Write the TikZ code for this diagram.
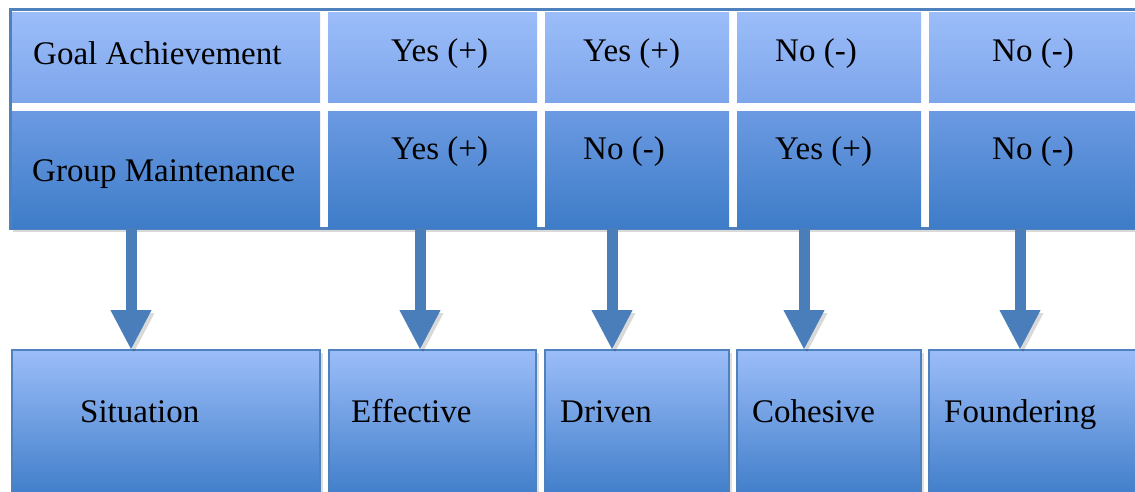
\documentclass[tikz,border=0pt]{standalone}
\usepackage{fontspec}
\setmainfont{Liberation Serif}
\usetikzlibrary{positioning, arrows.meta, shadows}

\definecolor{paleblue}{RGB}{155,189,249}
\definecolor{midblue}{RGB}{125,165,235}
\definecolor{softblue}{RGB}{107,154,226}
\definecolor{deepblue}{RGB}{62,124,200}
\definecolor{edgeblue}{RGB}{79,129,189}
\definecolor{arrowblue}{RGB}{74,126,187}

\begin{document}
\begin{tikzpicture}[
  x=1pt, y=-1pt,
  node distance=8pt,
  goalcell/.style={top color=paleblue, bottom color=midblue, minimum height=90pt, inner sep=0pt, outer sep=0pt},
  maintcell/.style={top color=softblue, bottom color=deepblue, minimum height=116pt, inner sep=0pt, outer sep=0pt},
  outbox/.style={draw=edgeblue, line width=2.5pt, top color=paleblue, middle color=midblue, bottom color=deepblue, minimum height=150pt, inner sep=0pt, outer sep=0pt, drop shadow={opacity=0.25, shadow xshift=3pt, shadow yshift=-3pt}},
  frame/.style={draw=edgeblue, line width=3pt, fill=white, inner sep=0pt, outer sep=0pt, drop shadow={opacity=0.3, shadow xshift=3pt, shadow yshift=-4pt}},
  lbl/.style={font=\fontsize{33}{40}\selectfont, inner sep=0pt},
  flow/.style={draw=arrowblue, line width=11pt, -{Triangle[width=38pt, length=40pt]}},
]
  \useasboundingbox (0,0) rectangle (1135,492);

  % Table frame
  \node (tbl) [frame, minimum width=1140pt, minimum height=218pt, anchor=north west] at (10,10) {};

  % Goal achievement row
  \node (ga1) [goalcell, minimum width=308pt, anchor=north west] at (12,13) {};
  \node (ga2) [goalcell, minimum width=209pt, right=of ga1] {};
  \node (ga3) [goalcell, minimum width=184pt, right=of ga2] {};
  \node (ga4) [goalcell, minimum width=184pt, right=of ga3] {};
  \node (ga5) [goalcell, minimum width=216pt, right=of ga4] {};

  % Group maintenance row
  \node (gm1) [maintcell, minimum width=308pt, below=9pt of ga1] {};
  \node (gm2) [maintcell, minimum width=209pt, below=9pt of ga2] {};
  \node (gm3) [maintcell, minimum width=184pt, below=9pt of ga3] {};
  \node (gm4) [maintcell, minimum width=184pt, below=9pt of ga4] {};
  \node (gm5) [maintcell, minimum width=216pt, below=9pt of ga5] {};

  % Outcome boxes
  \node (out1) [outbox, minimum width=308pt, below=122pt of gm1] {};
  \node (out2) [outbox, minimum width=207pt, below=122pt of gm2] {};
  \node (out3) [outbox, minimum width=184pt, below=122pt of gm3] {};
  \node (out4) [outbox, minimum width=184pt, below=122pt of gm4] {};
  \node (out5) [outbox, minimum width=216pt, below=122pt of gm5] {};

  % Texts
  \node (tga) [lbl, anchor=base west] at (33,65) {Goal Achievement};
  \node (tgm) [lbl, anchor=base west] at (32,182) {Group Maintenance};
  \node (ta2) [lbl, anchor=base west] at (391,62) {Yes (+)};
  \node (ta3) [lbl, anchor=base west] at (583,62) {Yes (+)};
  \node (ta4) [lbl, anchor=base west] at (775,62) {No (-)};
  \node (ta5) [lbl, anchor=base west] at (992,62) {No (-)};
  \node (tm2) [lbl, anchor=base west] at (391,160) {Yes (+)};
  \node (tm3) [lbl, anchor=base west] at (583,160) {No (-)};
  \node (tm4) [lbl, anchor=base west] at (775,160) {Yes (+)};
  \node (tm5) [lbl, anchor=base west] at (992,160) {No (-)};
  \node (to1) [lbl, anchor=base west] at (80,422) {Situation};
  \node (to2) [lbl, anchor=base west] at (351,422) {Effective};
  \node (to3) [lbl, anchor=base west] at (560,422) {Driven};
  \node (to4) [lbl, anchor=base west] at (752,422) {Cohesive};
  \node (to5) [lbl, anchor=base west] at (944,422) {Foundering};

  % Arrows from the table down to the outcomes
  \foreach \i/\ax in {1/131, 2/420, 3/612, 4/804, 5/1020} {
    \coordinate (ax\i) at (\ax,0);
    \draw [flow, preaction={draw=black, opacity=0.15, transform canvas={shift={(3pt,-3pt)}}}] (gm\i.south -| ax\i) -- (out\i.north -| ax\i);
  }

\end{tikzpicture}
\end{document}
